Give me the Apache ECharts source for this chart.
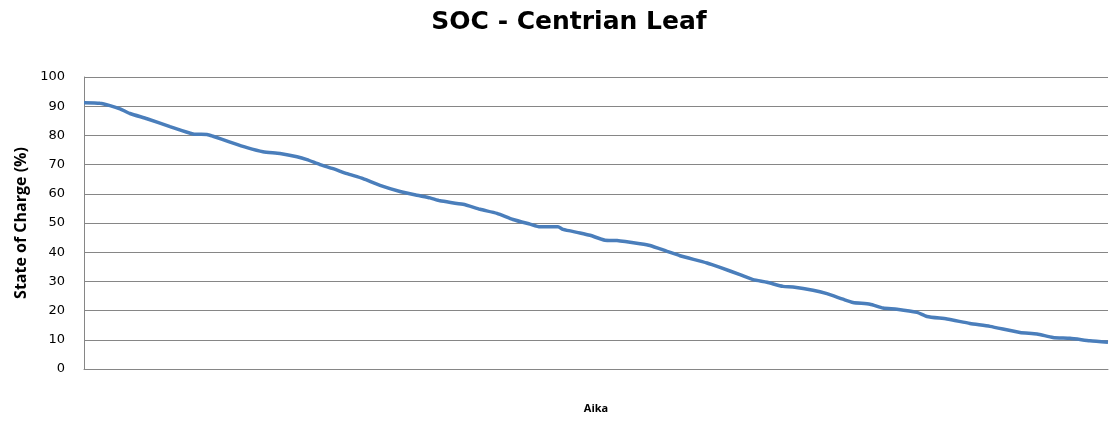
<!DOCTYPE html>
<html>
<head>
<meta charset="utf-8">
<script src="https://cdn.jsdelivr.net/npm/echarts@6/dist/echarts.min.js"></script>
<style>
html, body { margin: 0; padding: 0; background: #fff; }
#soc-chart { width: 1109px; height: 421px; }
</style>
</head>
<body>
<div id="soc-chart"></div>
<script>
// aika (time steps along the x axis) and state of charge (%)
var aika = [0, 16, 26, 36, 46, 63, 86, 109, 123, 129, 146, 163, 179, 196, 213, 223, 236, 249,
    263, 279, 296, 316, 333, 346, 356, 379, 396, 413, 429, 446, 456, 474, 479, 496, 506,
    521, 533, 556, 566, 583, 596, 623, 636, 656, 669, 683, 699, 709, 729, 743, 759, 769,
    786, 799, 813, 833, 843, 863, 886, 906, 936, 953, 969, 986, 1006, 1024];
var soc = [91.2, 91.0, 90.2, 89.1, 87.5, 85.7, 83.0, 80.5, 80.3, 79.7, 77.7, 75.8, 74.4, 73.8,
    72.7, 71.7, 70.0, 68.6, 66.9, 65.2, 62.9, 60.8, 59.5, 58.6, 57.6, 56.4, 54.7, 53.3, 51.2,
    49.6, 48.7, 48.7, 47.8, 46.6, 45.8, 44.1, 44.0, 42.9, 42.3, 40.3, 38.8, 36.3, 34.8, 32.3,
    30.6, 29.7, 28.3, 28.1, 27.0, 25.8, 23.9, 22.8, 22.2, 20.9, 20.5, 19.4, 18.0, 17.1, 15.6,
    14.6, 12.5, 12.0, 10.8, 10.5, 9.7, 9.2];

var seriesData = [];
for (var i = 0; i < aika.length; i++) {
    seriesData.push([aika[i], soc[i]]);
}

var socchart = echarts.init(document.getElementById('soc-chart'));
socchart.setOption({
    animation: false,
    title: {
        text: 'SOC - Centrian Leaf',
        left: 564,
        top: 5,
        textAlign: 'center',
        textStyle: {
            fontFamily: 'DejaVu Sans',
            fontWeight: 'bold',
            fontSize: 25,
            color: '#000'
        }
    },
    grid: {
        left: 84,
        right: 1,
        top: 77,
        bottom: 52
    },
    xAxis: {
        type: 'value',
        min: 0,
        max: 1024,
        name: 'Aika',
        nameLocation: 'middle',
        nameGap: 34,
        nameTextStyle: {
            fontFamily: 'Open Sans',
            fontWeight: 'bold',
            fontSize: 11,
            color: '#000'
        },
        axisLine: { show: true, lineStyle: { color: '#868686', width: 1 } },
        axisTick: { show: false },
        axisLabel: { show: false },
        splitLine: { show: false }
    },
    yAxis: {
        type: 'value',
        min: 0,
        max: 100,
        interval: 10,
        name: 'State of Charge (%)',
        nameLocation: 'middle',
        nameGap: 53,
        nameTextStyle: {
            fontFamily: 'Open Sans',
            fontWeight: 'bold',
            fontSize: 16,
            color: '#000'
        },
        axisLine: { show: true, lineStyle: { color: '#868686', width: 1 } },
        axisTick: { show: false },
        axisLabel: {
            margin: 19,
            fontFamily: 'DejaVu Sans',
            fontSize: 13,
            color: '#000'
        },
        splitLine: { lineStyle: { color: '#868686', width: 1 } }
    },
    series: [{
        name: 'SOC',
        type: 'line',
        data: seriesData,
        symbol: 'none',
        smooth: 0.2,
        lineStyle: {
            color: '#4a7ebb',
            width: 3.5
        }
    }]
});
</script>
</body>
</html>
